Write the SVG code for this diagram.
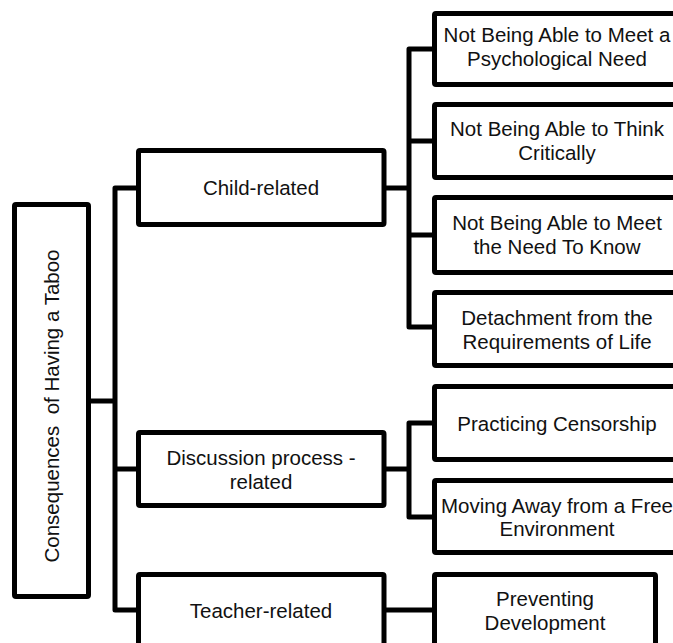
<svg xmlns="http://www.w3.org/2000/svg" width="673" height="643" viewBox="0 0 673 643">
<style>
.box{fill:#fff;stroke:#000;stroke-width:5;stroke-linejoin:round}
.con{fill:none;stroke:#000;stroke-width:5;stroke-linejoin:round}
text{font-family:"Liberation Sans",Arial,sans-serif;font-size:20.5px;fill:#111;text-anchor:middle}
</style>
<rect width="673" height="643" fill="#fff"/>
<g id="connectors">
<path class="con" d="M88.5,401 H115"/>
<path class="con" d="M138.5,188 H115 V610 H138.5"/>
<path class="con" d="M115,469 H138.5"/>
<path class="con" d="M384,188 H409"/>
<path class="con" d="M434.5,49 H409 V327 H434.5"/>
<path class="con" d="M409,141 H434.5 M409,235 H434.5"/>
<path class="con" d="M384,469 H409"/>
<path class="con" d="M434.5,423 H409 V517 H434.5"/>
<path class="con" d="M384,610 H434.5"/>
</g>
<g id="root">
<rect class="box" x="14.5" y="204.5" width="74" height="392" rx="1.5"/>
<text transform="translate(59,406) rotate(-90)" xml:space="preserve" style="white-space:pre">Consequences  of Having a Taboo</text>
</g>
<g id="child">
<rect class="box" x="138.5" y="150.5" width="245.5" height="74" rx="1.5"/>
<text x="261" y="195">Child-related</text>
</g>
<g id="discussion">
<rect class="box" x="138.5" y="432.5" width="245.5" height="73" rx="1.5"/>
<text x="261" y="465">Discussion process -</text>
<text x="261" y="489">related</text>
</g>
<g id="teacher">
<rect class="box" x="138.5" y="574.5" width="245.5" height="74" rx="1.5"/>
<text x="261" y="617.5">Teacher-related</text>
</g>
<g id="psych">
<rect class="box" x="434.5" y="13.5" width="246" height="71" rx="1.5"/>
<text x="557" y="42">Not Being Able to Meet a</text>
<text x="557" y="66">Psychological Need</text>
</g>
<g id="think">
<rect class="box" x="434.5" y="104.5" width="246" height="73" rx="1.5"/>
<text x="557" y="136">Not Being Able to Think</text>
<text x="557" y="160">Critically</text>
</g>
<g id="know">
<rect class="box" x="434.5" y="197.5" width="246" height="75" rx="1.5"/>
<text x="557" y="230">Not Being Able to Meet</text>
<text x="557" y="254">the Need To Know</text>
</g>
<g id="detach">
<rect class="box" x="434.5" y="292.5" width="246" height="73" rx="1.5"/>
<text x="557" y="325">Detachment from the</text>
<text x="557" y="348.5">Requirements of Life</text>
</g>
<g id="censor">
<rect class="box" x="434.5" y="386.5" width="246" height="73" rx="1.5"/>
<text x="557" y="431">Practicing Censorship</text>
</g>
<g id="free">
<rect class="box" x="434.5" y="480.5" width="246" height="72" rx="1.5"/>
<text x="557" y="512.5">Moving Away from a Free</text>
<text x="557" y="536">Environment</text>
</g>
<g id="prevent">
<rect class="box" x="434.5" y="574.5" width="221" height="74" rx="1.5"/>
<text x="545" y="605.5">Preventing</text>
<text x="545" y="629.5">Development</text>
</g>
</svg>
